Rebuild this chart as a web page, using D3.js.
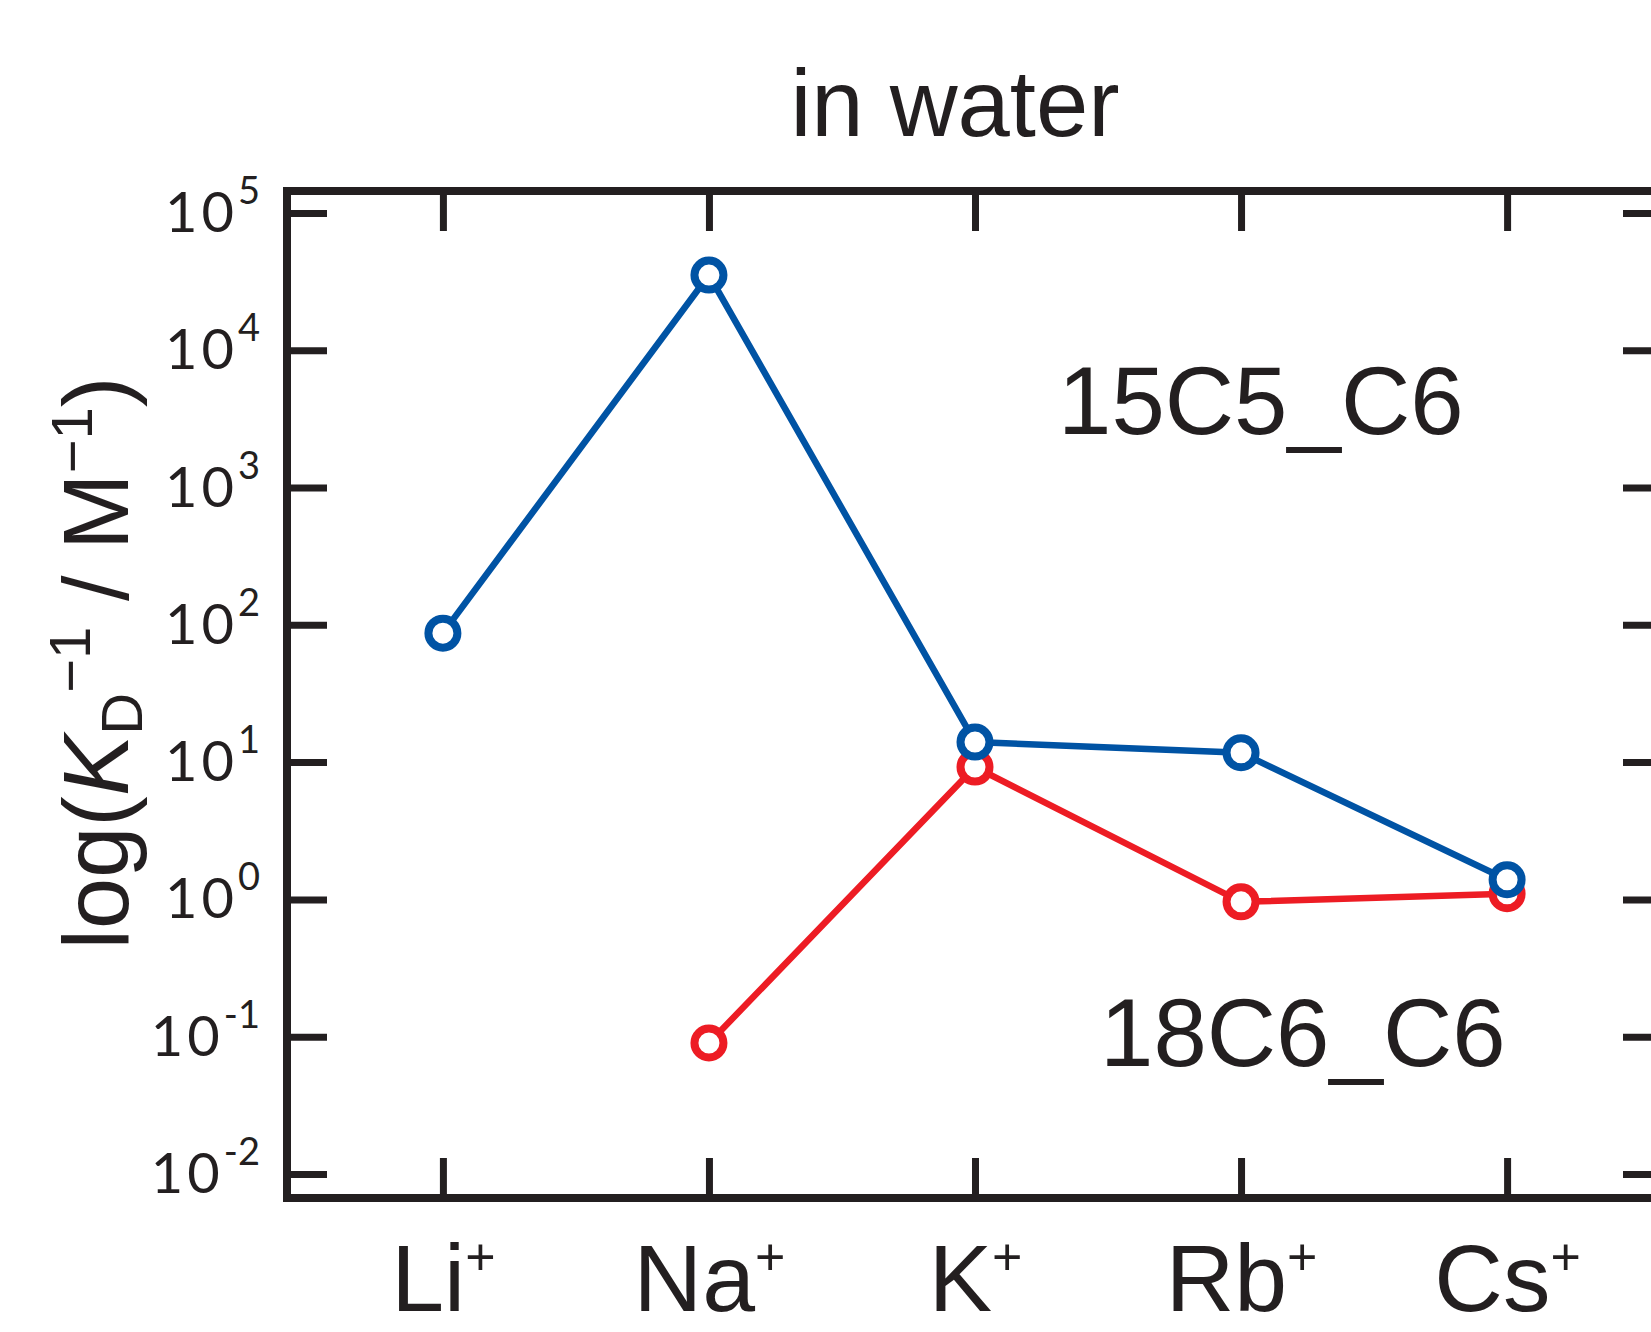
<!DOCTYPE html>
<html>
<head>
<meta charset="utf-8">
<script src="https://cdnjs.cloudflare.com/ajax/libs/d3/7.8.5/d3.min.js"></script>
<style>
  body { margin: 0; background: #fff; }
  svg { display: block; font-family: "Liberation Sans", Arial, sans-serif; }
  .tick line { stroke: #231f20; stroke-width: 7; }
</style>
</head>
<body>
<svg width="1651" height="1332"></svg>
<script>
var ions = ["Li", "Na", "K", "Rb", "Cs"];
var crown15 = [87, 35300, 14.0, 11.7, 1.39];      // 15C5_C6 (blue)
var crown18 = [null, 0.090, 9.2, 0.96, 1.10];     // 18C6_C6 (red)
var yTicks = [1e-2, 1e-1, 1e0, 1e1, 1e2, 1e3, 1e4, 1e5];
var yExp = ["-2", "-1", "0", "1", "2", "3", "4", "5"];

var ink = "#231f20";
var blue = "#0053a4";
var red = "#ed1c24";

var svg = d3.select("svg");
var plotL = 287, plotR = 1663, plotT = 191, plotB = 1198;

var x = d3.scalePoint().domain(ions).range([plotL, plotR]).padding(0.586);
var y = d3.scaleLog().domain([Math.pow(10, -2.175), Math.pow(10, 5.16)]).range([plotB, plotT]);

// title
svg.append("text")
  .attr("x", 955).attr("y", 136)
  .attr("text-anchor", "middle")
  .attr("font-size", 94)
  .attr("fill", ink)
  .text("in water");

// axes (ticks point inward)
var gl = svg.append("g").attr("transform", "translate(" + plotL + ",0)")
  .call(d3.axisLeft(y).tickValues(yTicks).tickSize(-40).tickPadding(27).tickFormat(function() { return ""; }));
var gr = svg.append("g").attr("transform", "translate(" + plotR + ",0)")
  .call(d3.axisRight(y).tickValues(yTicks).tickSize(-40).tickFormat(function() { return ""; }));
var gt = svg.append("g").attr("transform", "translate(0," + plotT + ")")
  .call(d3.axisTop(x).tickSize(-40).tickFormat(function() { return ""; }));
var gb = svg.append("g").attr("transform", "translate(0," + plotB + ")")
  .call(d3.axisBottom(x).tickSize(-40).tickFormat(function() { return ""; }));
[gl, gr, gt, gb].forEach(function(g) { g.select(".domain").remove(); });

// y tick labels 10^n
gl.selectAll(".tick text").each(function(d, i) {
  var t = d3.select(this)
    .attr("font-size", 56).attr("fill", ink).attr("dy", "0.33em")
    .attr("font-family", "Lato, 'Liberation Sans', sans-serif");
  t.append("tspan").attr("letter-spacing", 4).text("10");
  t.append("tspan").attr("font-size", 38).attr("dy", -28).text(yExp[i]);
});

// x tick labels with superscript plus
gb.selectAll(".tick text").each(function(d) {
  var t = d3.select(this)
    .attr("y", 113).attr("dy", 0)
    .attr("font-size", 95).attr("fill", ink);
  t.append("tspan").text(d);
  t.append("tspan").attr("font-size", 52).attr("dy", -36).text("+");
});

// frame
svg.append("rect")
  .attr("x", plotL).attr("y", plotT)
  .attr("width", plotR - plotL).attr("height", plotB - plotT)
  .attr("fill", "none").attr("stroke", ink).attr("stroke-width", 8);

// y axis label
var yl = svg.append("text")
  .attr("transform", "translate(128,663) rotate(-90)")
  .attr("text-anchor", "middle")
  .attr("font-size", 92)
  .attr("fill", ink);
yl.append("tspan").text("log(");
yl.append("tspan").attr("font-style", "italic").text("K");
yl.append("tspan").attr("font-size", 58).attr("dy", 14).text("D");
yl.append("tspan").attr("font-size", 58).attr("dy", -52).text("\u22121");
yl.append("tspan").attr("dy", 38).text(" / M");
yl.append("tspan").attr("font-size", 58).attr("dy", -36).text("\u22121");
yl.append("tspan").attr("dy", 36).text(")");

// series
var series = [
  { name: "18C6_C6", values: crown18, color: red },
  { name: "15C5_C6", values: crown15, color: blue }
];
var line = d3.line()
  .defined(function(d) { return d.v != null; })
  .x(function(d) { return x(d.ion); })
  .y(function(d) { return y(d.v); });

series.forEach(function(s) {
  var pts = ions.map(function(ion, i) { return { ion: ion, v: s.values[i] }; });
  svg.append("path")
    .datum(pts)
    .attr("d", line)
    .attr("fill", "none")
    .attr("stroke", s.color)
    .attr("stroke-width", 6.5);
  svg.selectAll(null)
    .data(pts.filter(function(d) { return d.v != null; }))
    .enter().append("circle")
    .attr("cx", function(d) { return x(d.ion); })
    .attr("cy", function(d) { return y(d.v); })
    .attr("r", 14.5)
    .attr("fill", "#fff")
    .attr("stroke", s.color)
    .attr("stroke-width", 8);
});

// series labels
svg.append("text").attr("x", 1058).attr("y", 434)
  .attr("font-size", 96).attr("fill", ink).text("15C5_C6");
svg.append("text").attr("x", 1100).attr("y", 1066)
  .attr("font-size", 96).attr("fill", ink).text("18C6_C6");
</script>
</body>
</html>
